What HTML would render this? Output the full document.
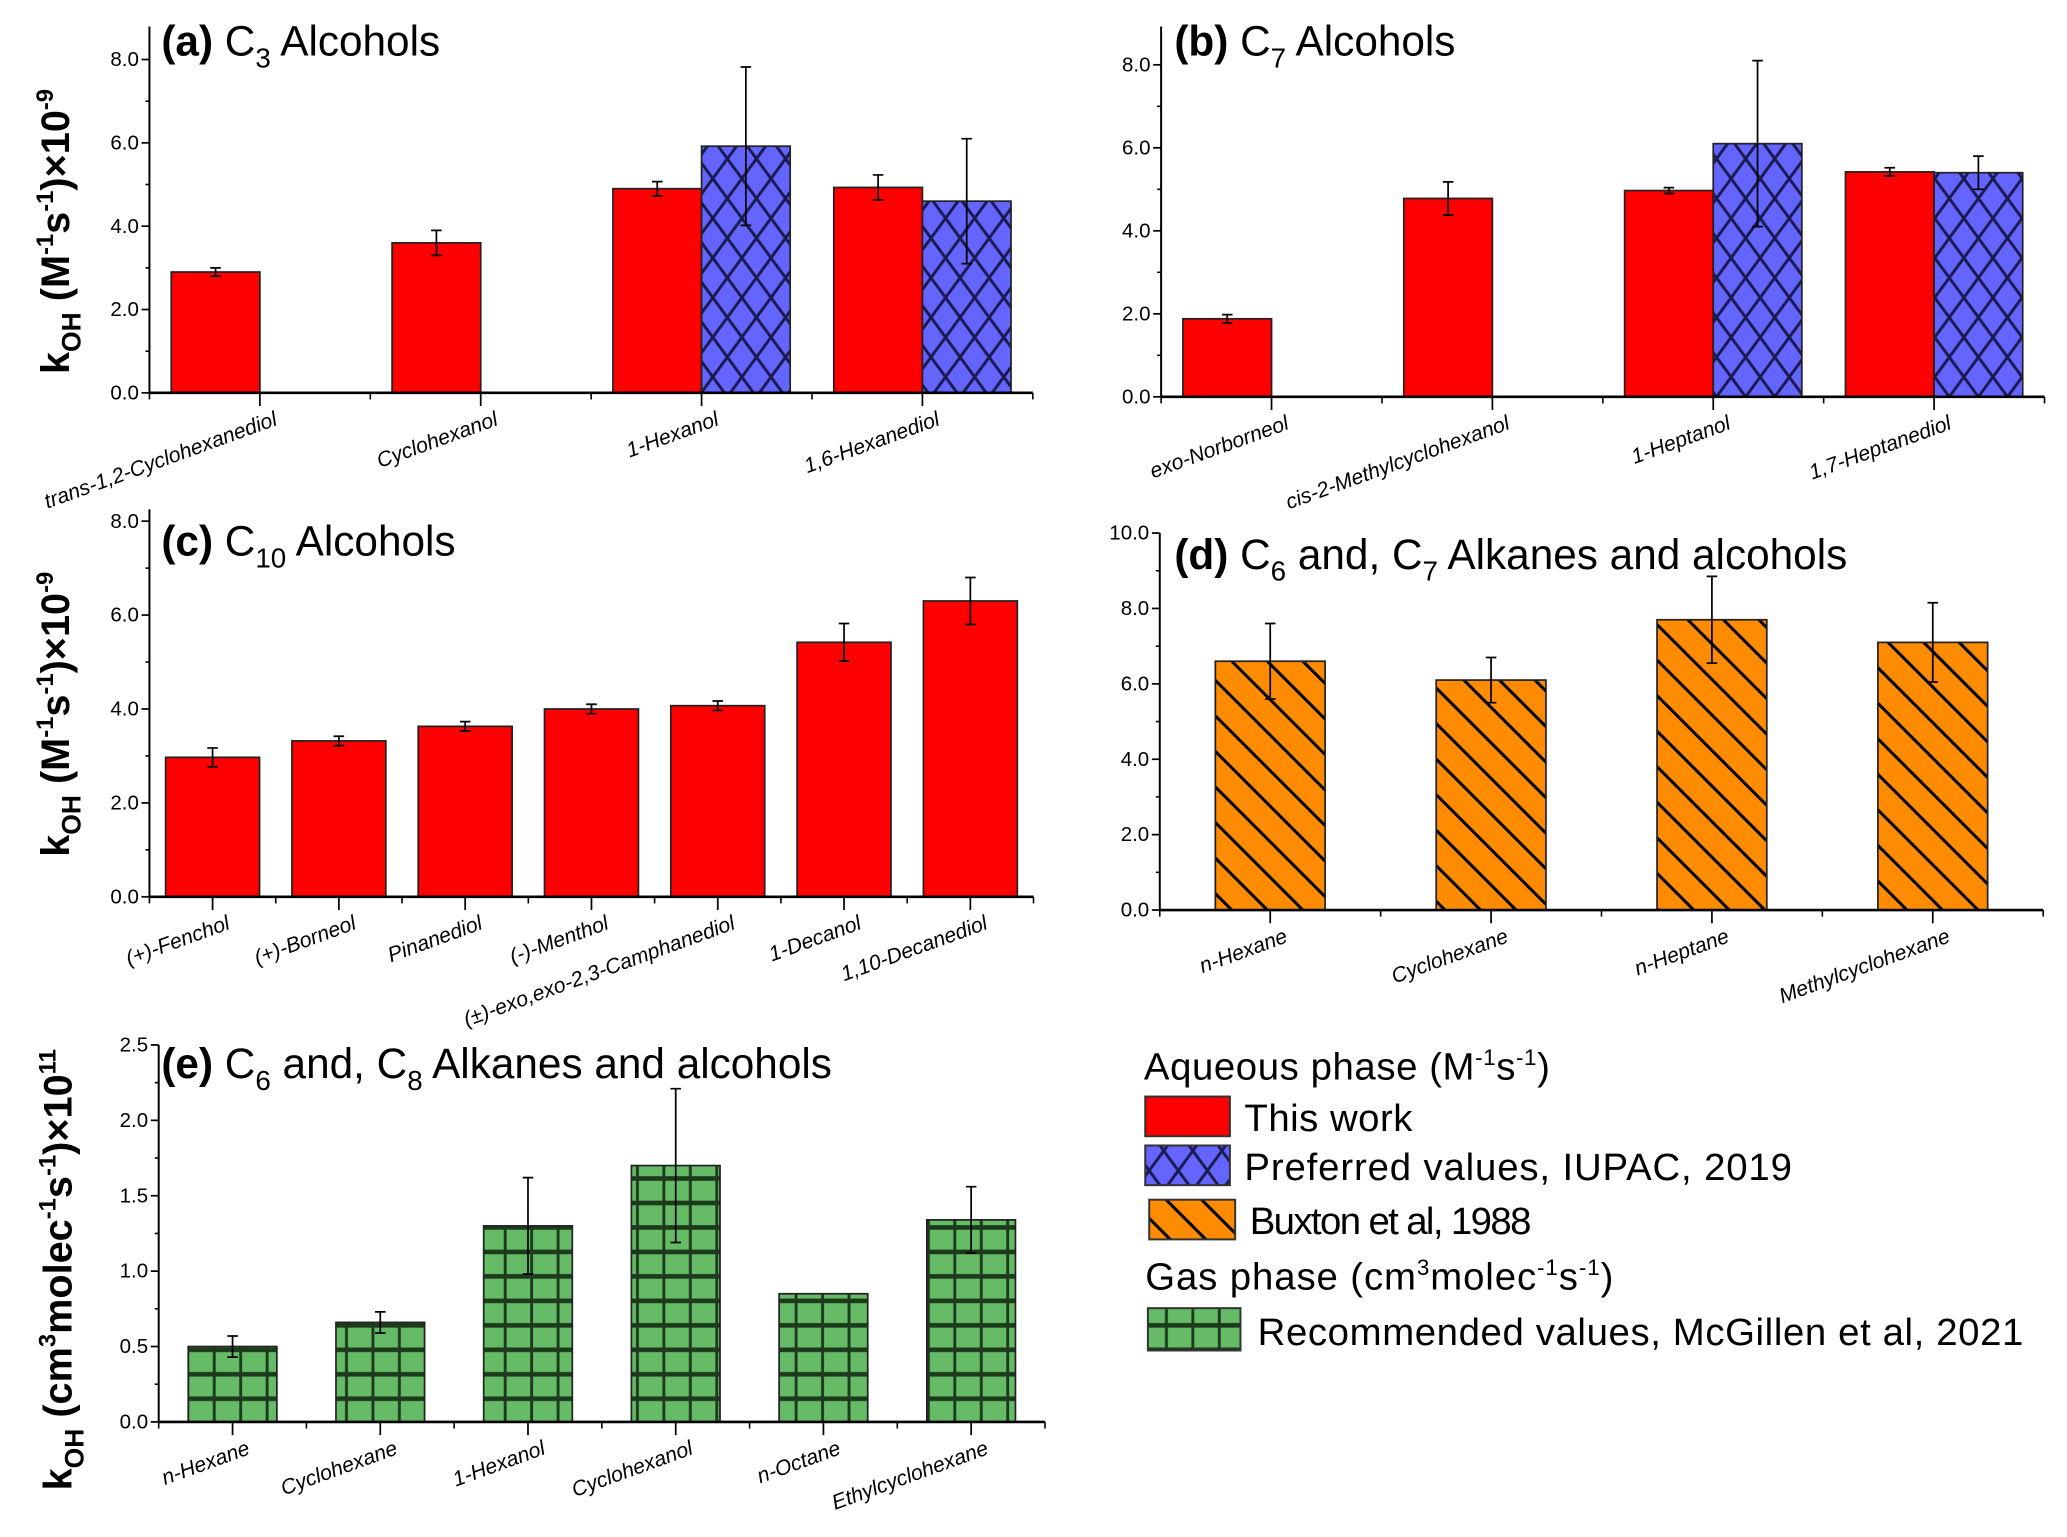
<!DOCTYPE html>
<html><head><meta charset="utf-8"><style>
html,body{margin:0;padding:0;background:#fff;}
svg{display:block;}
text{font-family:"Liberation Sans Narrow","Liberation Sans",sans-serif;}
.t{font-size:32px;}
.tk{font-size:15.5px;}
.cat{font-size:16px;font-style:italic;}
.yl{font-family:"Liberation Sans",sans-serif;font-weight:bold;font-size:30px;}
.lg{font-size:29px;}
</style></head><body>
<svg id="fig" width="2067" height="1537" viewBox="0 0 1563 1162" preserveAspectRatio="none" xmlns="http://www.w3.org/2000/svg">
<defs>
<pattern id="pBlue" patternUnits="userSpaceOnUse" width="22" height="30">
<rect width="22" height="30" fill="#6464ff"/>
<path d="M0,0 L22,30 M22,0 L0,30 M-11,15 L0,30 M11,-15 L22,0 M33,15 L22,30 M11,45 L0,30" stroke="#1a1a50" stroke-width="2.2"/>
</pattern>
<pattern id="pOrange" patternUnits="userSpaceOnUse" width="19" height="19" patternTransform="rotate(-45)">
<rect width="19" height="19" fill="#ff8c00"/>
<line x1="1" y1="0" x2="1" y2="19" stroke="#000" stroke-width="2.6"/>
</pattern>
<pattern id="pGreen" patternUnits="userSpaceOnUse" width="20" height="18.5" x="0" y="0">
<rect width="20" height="18.5" fill="#66bb66"/>
<line x1="2" y1="0" x2="2" y2="18.5" stroke="#1c3a1c" stroke-width="2.2"/>
<line x1="0" y1="3" x2="20" y2="3" stroke="#1c3a1c" stroke-width="3.5"/>
</pattern>
</defs>
<g id="root"></g>
<g id="legend">
<text class="lg" x="865" y="816" textLength="307">Aqueous phase (M<tspan dy="-11" font-size="17">-1</tspan><tspan dy="11">s</tspan><tspan dy="-11" font-size="17">-1</tspan><tspan dy="11">)</tspan></text>
<rect x="866" y="829" width="64" height="30" fill="#ff0000" stroke="#333" stroke-width="1.5"/>
<text class="lg" x="941" y="855" textLength="127">This work</text>
<rect x="866" y="866" width="64" height="30" fill="url(#pBlue)" stroke="#333" stroke-width="1.5"/>
<text class="lg" x="941" y="892" textLength="414">Preferred values, IUPAC, 2019</text>
<rect x="869" y="907" width="65" height="30" fill="url(#pOrange)" stroke="#333" stroke-width="1.5"/>
<text class="lg" x="945" y="933" textLength="213">Buxton et al, 1988</text>
<text class="lg" x="866" y="975" textLength="354">Gas phase (cm<tspan dy="-11" font-size="17">3</tspan><tspan dy="11">molec</tspan><tspan dy="-11" font-size="17">-1</tspan><tspan dy="11">s</tspan><tspan dy="-11" font-size="17">-1</tspan><tspan dy="11">)</tspan></text>
<rect x="868" y="989" width="70" height="32" fill="url(#pGreen)" stroke="#333" stroke-width="1.5"/>
<text class="lg" x="951" y="1017" textLength="579">Recommended values, McGillen et al, 2021</text>
</g>
</svg>
<script>
// ---- data ----
const catsA = ["trans-1,2-Cyclohexanediol","Cyclohexanol","1-Hexanol","1,6-Hexanediol"];
const redA = [2.9, 3.6, 4.9, 4.93];
const redErrA = [0.1, 0.3, 0.17, 0.3];
const blueA = [null, null, 5.92, 4.6];
const blueErrA = [0, 0, 1.9, 1.5];

const catsB = ["exo-Norborneol","cis-2-Methylcyclohexanol","1-Heptanol","1,7-Heptanediol"];
const redB = [1.88, 4.78, 4.97, 5.42];
const redErrB = [0.1, 0.4, 0.07, 0.1];
const blueB = [null, null, 6.1, 5.4];
const blueErrB = [0, 0, 2.0, 0.4];

const catsC = ["(+)-Fenchol","(+)-Borneol","Pinanediol","(-)-Menthol","(\u00b1)-exo,exo-2,3-Camphanediol","1-Decanol","1,10-Decanediol"];
const redC = [2.97, 3.32, 3.63, 4.0, 4.07, 5.42, 6.3];
const redErrC = [0.2, 0.1, 0.1, 0.1, 0.1, 0.4, 0.5];

const catsD = ["n-Hexane","Cyclohexane","n-Heptane","Methylcyclohexane"];
const orangeD = [6.6, 6.1, 7.7, 7.1];
const orangeErrD = [1.0, 0.6, 1.15, 1.05];

const catsE = ["n-Hexane","Cyclohexane","1-Hexanol","Cyclohexanol","n-Octane","Ethylcyclohexane"];
const greenE = [0.5, 0.66, 1.3, 1.7, 0.85, 1.34];
const greenErrE = [0.07, 0.07, 0.32, 0.51, 0, 0.22];

const ticksAB = ["0.0","2.0","4.0","6.0","8.0"];
const ticksC = ["0.0","2.0","4.0","6.0","8.0"];
const ticksD = ["0.0","2.0","4.0","6.0","8.0","10.0"];
const ticksE = ["0.0","0.5","1.0","1.5","2.0","2.5"];

const NS = "http://www.w3.org/2000/svg";
const root = document.getElementById('root');
function mk(tag, attrs, parent){const e=document.createElementNS(NS,tag);for(const k in attrs)e.setAttribute(k,attrs[k]);(parent||root).appendChild(e);return e;}

function panel(o){
  const g = mk('g',{});
  
  
  const y = v => o.y0 - (v - o.ymin) / (o.ymax - o.ymin) * (o.y0 - o.yTopVal);
  const n = o.cats.length;
  const cx = i => o.x0 + o.sp/2 + i*o.sp;
  const xEnd = o.x0 + n*o.sp;
  const ya = mk('line',{x1:o.x0,y1:o.yAxisTop,x2:o.x0,y2:o.y0,stroke:'#000','stroke-width':1.5},g);
  
  
  const tv = o.ticks.map(Number);
  tv.forEach((v,i)=>{
    mk('line',{x1:o.x0-6,y1:y(v),x2:o.x0,y2:y(v),stroke:'#000','stroke-width':1.3},g);
    const t = mk('text',{x:o.x0-8,y:y(v)+5,'text-anchor':'end',class:'tk'},g);
    t.textContent = o.ticks[i];
    
    
    if(i<tv.length-1){const m=(v+tv[i+1])/2; mk('line',{x1:o.x0-3,y1:y(m),x2:o.x0,y2:y(m),stroke:'#000','stroke-width':1.2},g);}
  });
  o.series.forEach(s=>{
    s.vals.forEach((v,i)=>{
      if(v===null) return;
      const bx = o.paired ? (s.off<0 ? cx(i)-o.bw : cx(i)) : cx(i)-o.bw/2;
      const r = mk('rect',{x:bx,y:y(v),width:o.bw,height:o.y0-y(v),fill:s.fill,stroke:'#222','stroke-width':1.3},g);
      
      
      const e = s.err[i];
      if(e>0){
        const ex = bx + o.bw/2;
        const eb = mk('path',{d:`M${ex},${y(v+e)}V${y(v-e)}M${ex-4},${y(v+e)}H${ex+4}M${ex-4},${y(v-e)}H${ex+4}`,stroke:'#000','stroke-width':1.3,fill:'none'},g);
        
        
      }
    });
  });
  const xa = mk('line',{x1:o.x0,y1:o.y0,x2:xEnd,y2:o.y0,stroke:'#000','stroke-width':2},g);
  
  
  for(let i=0;i<n;i++){
    mk('line',{x1:cx(i),y1:o.y0,x2:cx(i),y2:o.y0+10,stroke:'#000','stroke-width':1.3},g);
    mk('line',{x1:o.x0+i*o.sp,y1:o.y0,x2:o.x0+i*o.sp,y2:o.y0+5,stroke:'#000','stroke-width':1.2},g);
    const t = mk('text',{x:cx(i)+14,y:o.y0+24,'text-anchor':'end',class:'cat',transform:`rotate(-20 ${cx(i)+14} ${o.y0+24})`},g);
    t.textContent = o.cats[i];
    
    
  }
  mk('line',{x1:xEnd,y1:o.y0,x2:xEnd,y2:o.y0+5,stroke:'#000','stroke-width':1.2},g);
  const tt = mk('text',{x:o.titleX,y:o.titleY,class:'t'},g);
  tt.innerHTML = o.title;
  
  
  if(o.ylabel){
    const yl = mk('text',{x:0,y:0,'text-anchor':'middle',class:'yl',transform:`translate(${o.ylx},${o.yly}) rotate(-90)`},g);
    yl.innerHTML = o.ylabel;
    
    
  }
}
const ylM = 'k<tspan dy="9" font-size="20">OH</tspan><tspan dy="-9"> (M</tspan><tspan dy="-12" font-size="18">-1</tspan><tspan dy="12">s</tspan><tspan dy="-12" font-size="18">-1</tspan><tspan dy="12">)×10</tspan><tspan dy="-12" font-size="18">-9</tspan>';
const ylG = 'k<tspan dy="9" font-size="20">OH</tspan><tspan dy="-9"> (cm</tspan><tspan dy="-12" font-size="18">3</tspan><tspan dy="12">molec</tspan><tspan dy="-12" font-size="18">-1</tspan><tspan dy="12">s</tspan><tspan dy="-12" font-size="18">-1</tspan><tspan dy="12">)×10</tspan><tspan dy="-12" font-size="18">11</tspan>';
const sub = s => `<tspan dy="9" font-size="21">${s}</tspan><tspan dy="-9">`;

panel({name:'panel-a',x0:113,y0:297,yTopVal:45,ymin:0,ymax:8,yAxisTop:20,sp:167,bw:67,paired:true,cats:catsA,ticks:ticksAB,
  series:[{name:'this-work',vals:redA,err:redErrA,fill:'#ff0000',off:-1},{name:'iupac',vals:blueA,err:blueErrA,fill:'url(#pBlue)',off:1}],
  titleX:122,titleY:42,title:'<tspan font-weight="bold">(a)</tspan> C'+sub('3')+' Alcohols</tspan>',ylabel:ylM,ylx:52,yly:175});
panel({name:'panel-b',x0:878,y0:300,yTopVal:49,ymin:0,ymax:8,yAxisTop:20,sp:167,bw:67,paired:true,cats:catsB,ticks:ticksAB,
  series:[{name:'this-work',vals:redB,err:redErrB,fill:'#ff0000',off:-1},{name:'iupac',vals:blueB,err:blueErrB,fill:'url(#pBlue)',off:1}],
  titleX:888,titleY:42,title:'<tspan font-weight="bold">(b)</tspan> C'+sub('7')+' Alcohols</tspan>'});
panel({name:'panel-c',x0:113,y0:678,yTopVal:394,ymin:0,ymax:8,yAxisTop:385,sp:95.5,bw:71,paired:false,cats:catsC,ticks:ticksC,
  series:[{name:'this-work',vals:redC,err:redErrC,fill:'#ff0000'}],
  titleX:122,titleY:420,title:'<tspan font-weight="bold">(c)</tspan> C'+sub('10')+' Alcohols</tspan>',ylabel:ylM,ylx:52,yly:540});
panel({name:'panel-d',x0:877,y0:688,yTopVal:403,ymin:0,ymax:10,yAxisTop:403,sp:167,bw:83,paired:false,cats:catsD,ticks:ticksD,
  series:[{name:'buxton',vals:orangeD,err:orangeErrD,fill:'url(#pOrange)'}],
  titleX:888,titleY:430,title:'<tspan font-weight="bold">(d)</tspan> C'+sub('6')+' and, C'+sub('7')+' Alkanes and alcohols</tspan></tspan>'});
panel({name:'panel-e',x0:120,y0:1075,yTopVal:790,ymin:0,ymax:2.5,yAxisTop:790,sp:111.7,bw:67,paired:false,cats:catsE,ticks:ticksE,
  series:[{name:'mcgillen',vals:greenE,err:greenErrE,fill:'url(#pGreen)'}],
  titleX:122,titleY:815,title:'<tspan font-weight="bold">(e)</tspan> C'+sub('6')+' and, C'+sub('8')+' Alkanes and alcohols</tspan></tspan>',ylabel:ylG,ylx:54,yly:960});
</script>
</body></html>
